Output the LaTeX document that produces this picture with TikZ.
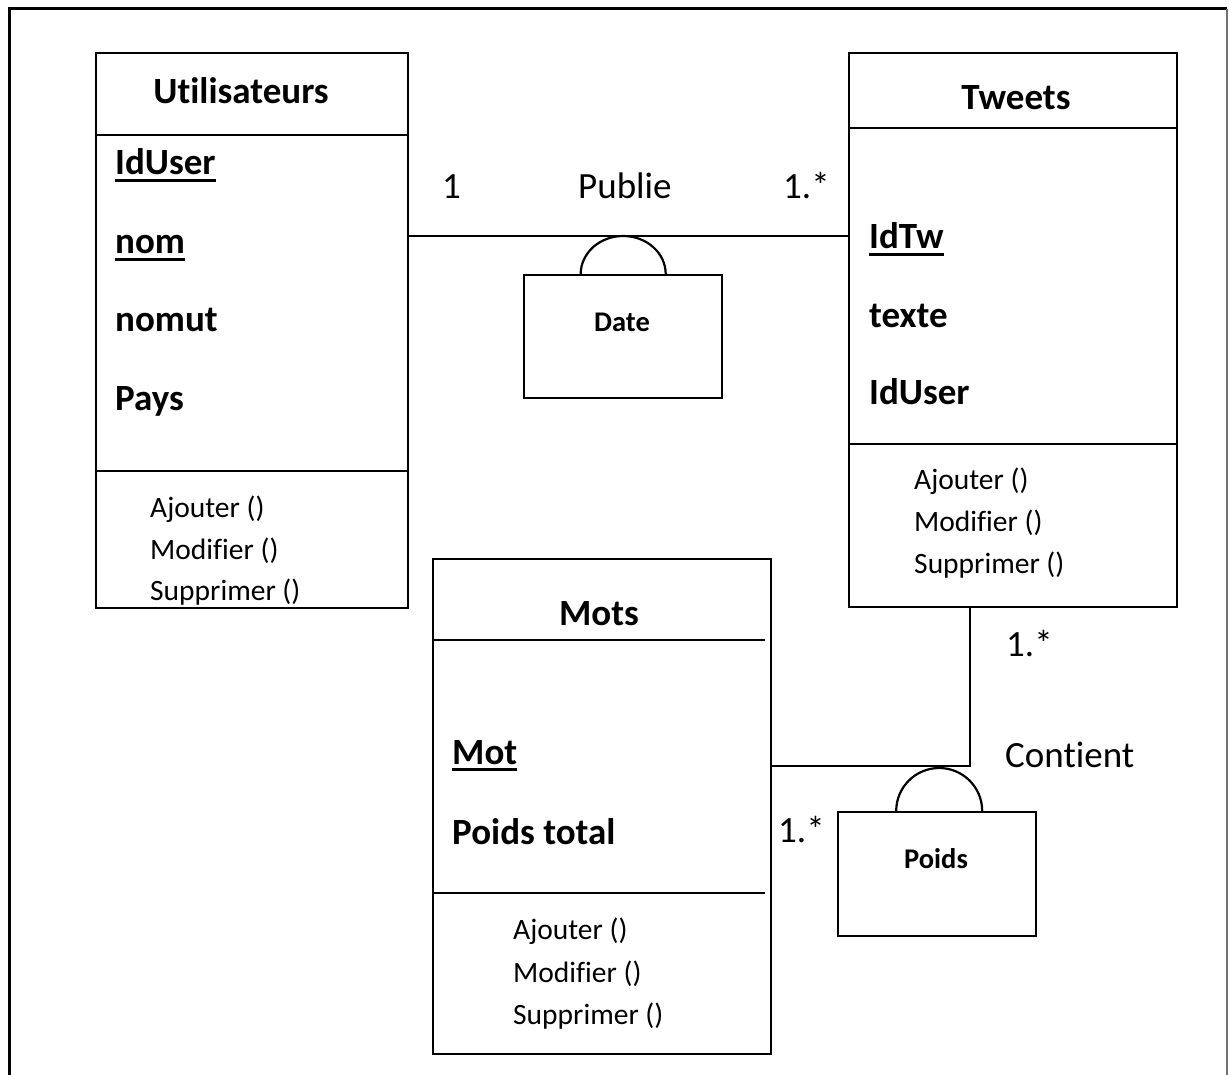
\documentclass[tikz,border=0pt]{standalone}
\usepackage{fontspec}
\setmainfont{Carlito}[Ligatures={NoCommon}]
% primary-key attribute: text with a thick rule just under the baseline
\newcommand\pkey[1]{\setbox0=\hbox{#1}\rlap{\rule[-7pt]{\wd0}{2.6pt}}\box0}
\begin{document}
\begin{tikzpicture}[x=1pt,y=-1pt,
  box/.style={draw, line width=2.4pt, inner sep=0, anchor=north west},
  sep/.style={line width=2.2pt},
  conn/.style={line width=2.2pt},
  txt/.style={inner sep=0, yshift=-2pt},
  title/.style={txt, font=\fontsize{37}{44}\selectfont\bfseries, anchor=base},
  attr/.style={txt, font=\fontsize{37}{44}\selectfont\bfseries, anchor=base west},
  meth/.style={txt, font=\fontsize{29.5}{35}\selectfont, anchor=base west},
  rel/.style={txt, font=\fontsize{37}{44}\selectfont, anchor=base west},
  assoc/.style={txt, font=\fontsize{28.5}{34}\selectfont\bfseries, anchor=base}]
\useasboundingbox (0,0) rectangle (1229,1075);

% page frame
\draw[line width=3pt] (9,1075) -- (9,9) -- (1227,9);
\draw[line width=1.4pt, black!55] (1227,9) -- (1227,1075);

% class boxes
\node[box, minimum width=312pt, minimum height=555pt] (users) at (95,52) {};
\node[box, minimum width=328pt, minimum height=554pt] (tweets) at (848,52) {};
\node[box, minimum width=338pt, minimum height=495pt] (mots) at (432,558) {};

% compartment separators
\draw[sep] (users.west |- 0,135) -- (users.east |- 0,135);
\draw[sep] (users.west |- 0,471) -- (users.east |- 0,471);
\draw[sep] (tweets.west |- 0,128) -- (tweets.east |- 0,128);
\draw[sep] (tweets.west |- 0,444) -- (tweets.east |- 0,444);
\draw[sep] (mots.west |- 0,640) -- (765,640);
\draw[sep] (mots.west |- 0,893) -- (765,893);

% Utilisateurs
\node[title] (tU) at (241,102) {Utilisateurs};
\node[attr] (u1) at (115,173) {\pkey{IdUser}};
\node[attr] (u2) at (115,252) {\pkey{nom}};
\node[attr] (u3) at (115,330) {nomut};
\node[attr] (u4) at (115,408) {Pays};
\node[meth] (um1) at (150,515) {Ajouter ()};
\node[meth] (um2) at (150,557) {Modifier ()};
\node[meth] (um3) at (150,598) {Supprimer ()};

% Tweets
\node[title] (tT) at (1016,108) {Tweets};
\node[attr] (t1) at (869,247) {\pkey{IdTw}};
\node[attr] (t2) at (869,325) {texte};
\node[attr] (t3) at (869,402) {IdUser};
\node[meth] (tm1) at (914,487) {Ajouter ()};
\node[meth] (tm2) at (914,529) {Modifier ()};
\node[meth] (tm3) at (914,571) {Supprimer ()};

% Mots
\node[title] (tM) at (599,623) {Mots};
\node[attr] (m1) at (452,762) {\pkey{Mot}};
\node[attr] (m2) at (452,842) {Poids total};
\node[meth] (mm1) at (513,937) {Ajouter ()};
\node[meth] (mm2) at (513,980) {Modifier ()};
\node[meth] (mm3) at (513,1022) {Supprimer ()};

% association classes
\node[box, minimum width=198pt, minimum height=123pt] (date) at (523,274) {};
\node[box, minimum width=198pt, minimum height=124pt] (poids) at (837,811) {};
\node[assoc] (dateL) at (622,330) {Date};
\node[assoc] (poidsL) at (936,866) {Poids};
\draw[conn] ([xshift=-42.5pt]date.north) arc[start angle=180, end angle=0, x radius=42.5pt, y radius=38pt];
\draw[conn] ([xshift=-41pt]poids.north) arc[start angle=180, end angle=0, x radius=43pt, y radius=43pt];

% Publie
\draw[conn] (users.east |- 0,236) -- (tweets.west |- 0,236);
\node[rel] (p1) at (442,197) {1};
\node[rel] (pL) at (578,197) {Publie};
\node[rel] (p2) at (783,197) {1.*};

% Contient
\draw[conn] (tweets.south -| 970,0) |- (mots.east |- 0,766);
\node[rel] (c1) at (1006,654) {1.*};
\node[rel] (cL) at (1005,765) {Contient};
\node[rel] (c2) at (778,840) {1.*};
\end{tikzpicture}
\end{document}
